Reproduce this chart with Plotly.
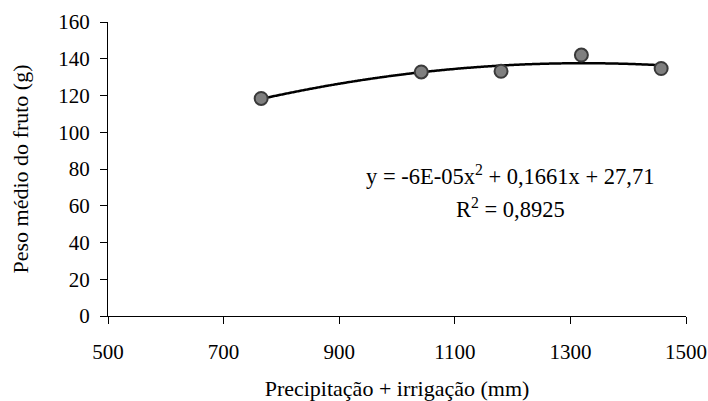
import numpy as np
import plotly.graph_objects as go

# Data
precip_irrig_mm = [765, 1042, 1180, 1319, 1457]
peso_medio_g = [118.4, 132.8, 133.2, 142.0, 134.7]

x_ticks = [500, 700, 900, 1100, 1300, 1500]
y_ticks = [0, 20, 40, 60, 80, 100, 120, 140, 160]

equation_text = "y = -6E-05x<sup>2</sup> + 0,1661x + 27,71"
r2_text = "R<sup>2</sup> = 0,8925"

# Quadratic trend line fitted to the points (as the original spreadsheet did)
coef = np.polyfit(precip_irrig_mm, peso_medio_g, 2)
xs = np.linspace(min(precip_irrig_mm), max(precip_irrig_mm), 200)
ys = np.polyval(coef, xs)

FONT = "Liberation Serif"
tick_font = dict(family=FONT, size=21, color="black")
title_font = dict(family=FONT, size=22, color="black")
ann_font = dict(family=FONT, size=22.5, color="black")

fig = go.Figure()
fig.add_trace(go.Scatter(
    x=xs, y=ys, mode="lines",
    line=dict(color="black", width=2.5, shape="spline"),
    hoverinfo="skip", showlegend=False,
))
fig.add_trace(go.Scatter(
    x=precip_irrig_mm, y=peso_medio_g, mode="markers",
    marker=dict(size=13, color="#7f7f7f", line=dict(color="#3a3a3a", width=2)),
    showlegend=False,
))

fig.add_annotation(x=1196, y=76.7, xref="x", yref="y", text=equation_text,
                   showarrow=False, font=ann_font)
fig.add_annotation(x=1196, y=58.7, xref="x", yref="y", text=r2_text,
                   showarrow=False, font=ann_font)

fig.update_layout(
    width=708, height=401,
    margin=dict(l=108, r=22, t=22, b=85),
    paper_bgcolor="white", plot_bgcolor="white",
    font=tick_font,
    xaxis=dict(
        range=[500, 1500], tickvals=x_ticks, ticktext=[str(v) for v in x_ticks],
        showgrid=False, zeroline=False, showline=True, linecolor="black", linewidth=1,
        ticks="outside", ticklen=7, tickcolor="black", tickwidth=1,
        tickfont=tick_font, automargin=False, ticklabelstandoff=10,
        ticklabeloverflow="allow",
        title=dict(text="Precipitação + irrigação (mm)", font=title_font, standoff=20),
    ),
    yaxis=dict(
        range=[0, 160], tickvals=y_ticks, ticktext=[str(v) for v in y_ticks],
        showgrid=False, zeroline=False, showline=True, linecolor="black", linewidth=1,
        ticks="outside", ticklen=7, tickcolor="black", tickwidth=1,
        tickfont=tick_font, automargin=False, ticklabelstandoff=6,
        ticklabeloverflow="allow",
        title=dict(text="Peso médio do fruto (g)", font=title_font, standoff=23),
    ),
)

# Remove the page's default body margin so the figure fills the window exactly
fig.write_html(
    "out.html",
    config={"displayModeBar": False},
    post_script="document.body.style.margin='0';document.body.style.overflow='hidden';",
)
